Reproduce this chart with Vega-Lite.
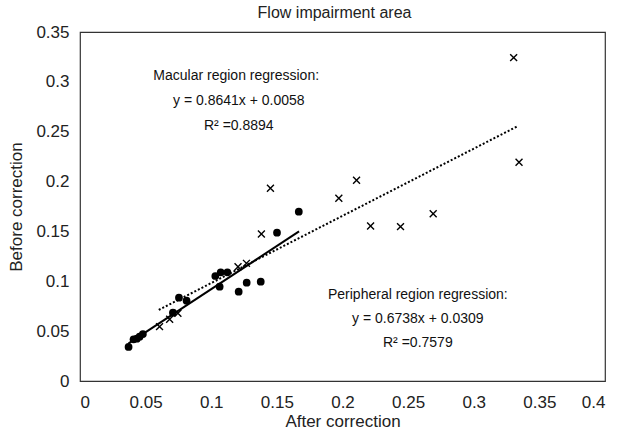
{
  "$schema": "https://vega.github.io/schema/vega-lite/v6.json",
  "width": 525,
  "height": 349,
  "autosize": "none",
  "padding": {"left": 80, "top": 32, "right": 13, "bottom": 56},
  "config": {
    "view": {"stroke": "#333333", "strokeWidth": 1.2},
    "font": "Liberation Sans",
    "axis": {"domain": false, "ticks": false, "grid": false, "labelFontSize": 17, "labelColor": "#222222", "titleFontSize": 17, "titleFontWeight": "normal", "titleColor": "#222222", "labelFont": "Liberation Sans", "titleFont": "Liberation Sans"}
  },
  "title": {"text": "Flow impairment area", "fontSize": 16, "fontWeight": "normal", "font": "Liberation Sans", "color": "#222222", "offset": 0, "dy": -2, "anchor": "middle", "dx": -8},
  "datasets": {
    "pts": [
      {"x": 0.037, "y": 0.0341, "group": "Macular"},
      {"x": 0.0408, "y": 0.0418, "group": "Macular"},
      {"x": 0.0433, "y": 0.0424, "group": "Macular"},
      {"x": 0.0454, "y": 0.0444, "group": "Macular"},
      {"x": 0.0479, "y": 0.0471, "group": "Macular"},
      {"x": 0.0754, "y": 0.0836, "group": "Macular"},
      {"x": 0.0812, "y": 0.0805, "group": "Macular"},
      {"x": 0.0708, "y": 0.0685, "group": "Macular"},
      {"x": 0.1031, "y": 0.1053, "group": "Macular"},
      {"x": 0.1072, "y": 0.109, "group": "Macular"},
      {"x": 0.1123, "y": 0.109, "group": "Macular"},
      {"x": 0.1064, "y": 0.0946, "group": "Macular"},
      {"x": 0.1209, "y": 0.0896, "group": "Macular"},
      {"x": 0.127, "y": 0.0986, "group": "Macular"},
      {"x": 0.1377, "y": 0.0996, "group": "Macular"},
      {"x": 0.1501, "y": 0.1487, "group": "Macular"},
      {"x": 0.1667, "y": 0.1698, "group": "Macular"},
      {"x": 0.1451, "y": 0.1933, "group": "Peripheral"},
      {"x": 0.1382, "y": 0.1474, "group": "Peripheral"},
      {"x": 0.0606, "y": 0.0545, "group": "Peripheral"},
      {"x": 0.0683, "y": 0.0619, "group": "Peripheral"},
      {"x": 0.0746, "y": 0.0679, "group": "Peripheral"},
      {"x": 0.1204, "y": 0.1146, "group": "Peripheral"},
      {"x": 0.1268, "y": 0.118, "group": "Peripheral"},
      {"x": 0.3304, "y": 0.3243, "group": "Peripheral"},
      {"x": 0.3345, "y": 0.2194, "group": "Peripheral"},
      {"x": 0.2107, "y": 0.2013, "group": "Peripheral"},
      {"x": 0.1972, "y": 0.1832, "group": "Peripheral"},
      {"x": 0.2691, "y": 0.1678, "group": "Peripheral"},
      {"x": 0.2214, "y": 0.1555, "group": "Peripheral"},
      {"x": 0.2442, "y": 0.1548, "group": "Peripheral"}
    ],
    "lines": [
      {"x": 0.037, "y": 0.0378, "group": "Macular"},
      {"x": 0.1669, "y": 0.15, "group": "Macular"},
      {"x": 0.06, "y": 0.0713, "group": "Peripheral"},
      {"x": 0.334, "y": 0.2559, "group": "Peripheral"}
    ],
    "notes": [
      {"x": 0.119, "y": 0.306, "label": "Macular region regression:"},
      {"x": 0.121, "y": 0.281, "label": "y = 0.8641x + 0.0058"},
      {"x": 0.121, "y": 0.2558, "label": "R² =0.8894"},
      {"x": 0.2574, "y": 0.0863, "label": "Peripheral region regression:"},
      {"x": 0.2574, "y": 0.0619, "label": "y = 0.6738x + 0.0309"},
      {"x": 0.2574, "y": 0.0384, "label": "R² =0.7579"}
    ]
  },
  "layer": [
    {
      "data": {"name": "lines"},
      "transform": [{"filter": "datum.group === 'Macular'"}],
      "mark": {"type": "line", "color": "#000000", "strokeWidth": 2},
      "encoding": {
        "x": {"field": "x", "type": "quantitative", "scale": {"domain": [0, 0.4], "nice": false}, "axis": {"values": [0, 0.05, 0.1, 0.15, 0.2, 0.25, 0.3, 0.35, 0.4], "format": "~g", "title": "After correction", "labelPadding": 13, "titlePadding": 3}},
        "y": {"field": "y", "type": "quantitative", "scale": {"domain": [0, 0.35], "nice": false}, "axis": {"values": [0, 0.05, 0.1, 0.15, 0.2, 0.25, 0.3, 0.35], "format": "~g", "title": "Before correction", "labelPadding": 11, "titlePadding": 10}}
      }
    },
    {
      "data": {"name": "lines"},
      "transform": [{"filter": "datum.group === 'Peripheral'"}],
      "mark": {"type": "line", "color": "#000000", "strokeWidth": 2, "strokeDash": [2, 2]},
      "encoding": {
        "x": {"field": "x", "type": "quantitative"},
        "y": {"field": "y", "type": "quantitative"}
      }
    },
    {
      "data": {"name": "pts"},
      "transform": [{"filter": "datum.group === 'Macular'"}],
      "mark": {"type": "point", "shape": "circle", "filled": true, "color": "#000000", "size": 60, "opacity": 1},
      "encoding": {
        "x": {"field": "x", "type": "quantitative"},
        "y": {"field": "y", "type": "quantitative"}
      }
    },
    {
      "data": {"name": "pts"},
      "transform": [{"filter": "datum.group === 'Peripheral'"}],
      "mark": {"type": "point", "shape": "M-1,-1L1,1M-1,1L1,-1", "filled": false, "color": "#000000", "size": 48, "strokeWidth": 1.4, "opacity": 1},
      "encoding": {
        "x": {"field": "x", "type": "quantitative"},
        "y": {"field": "y", "type": "quantitative"}
      }
    },
    {
      "data": {"name": "notes"},
      "mark": {"type": "text", "fontSize": 14, "color": "#111111", "align": "center", "baseline": "middle", "font": "Liberation Sans"},
      "encoding": {
        "x": {"field": "x", "type": "quantitative"},
        "y": {"field": "y", "type": "quantitative"},
        "text": {"field": "label", "type": "nominal"}
      }
    }
  ]
}
